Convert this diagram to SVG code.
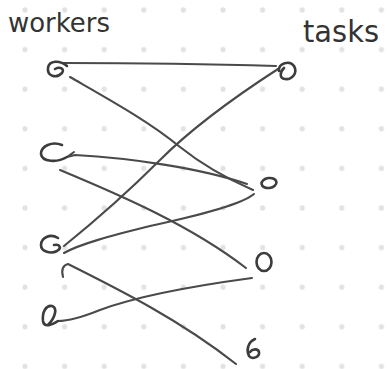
<svg xmlns="http://www.w3.org/2000/svg" width="390" height="369" viewBox="0 0 390 369">
  <defs>
    <pattern id="dotgrid" patternUnits="userSpaceOnUse" x="5.2" y="-9.8" width="39.6" height="39.6">
      <circle cx="19.8" cy="19.8" r="2.6" fill="#e2e2e2"/>
    </pattern>
  </defs>
  <style>
    .ink { fill: none; stroke: #3c3c3c; stroke-width: 2.6; stroke-linecap: round; stroke-linejoin: round; }
    .edge { fill: none; stroke: #4a4a4a; stroke-width: 2.1; stroke-linecap: round; stroke-linejoin: round; }
    .label { font-family: "DejaVu Sans", "Liberation Sans", sans-serif; fill: #333; }
  </style>

  <!-- paper with dot grid -->
  <rect width="390" height="369" fill="#ffffff"/>
  <rect width="390" height="369" fill="url(#dotgrid)"/>

  <!-- column headings -->
  <text class="label" x="8" y="32" font-size="27" textLength="102" lengthAdjust="spacingAndGlyphs">workers</text>
  <text class="label" x="303" y="42" font-size="30" textLength="76" lengthAdjust="spacingAndGlyphs">tasks</text>

  <!-- assignments -->
  <g id="connectors">
    <path class="edge" d="M 63 63 C 130 63, 210 64, 276 66"/>
    <path class="edge" d="M 70 77 C 110 100, 150 122, 180 147 C 205 167, 230 180, 253 190"/>
    <path class="edge" d="M 278 69 C 230 100, 190 130, 160 160 C 125 195, 90 225, 64 246"/>
    <path class="edge" d="M 74 152 L 67 157 L 75 155 C 130 158, 200 168, 247 184"/>
    <path class="edge" d="M 60 170 C 120 195, 190 225, 246 268"/>
    <path class="edge" d="M 254 194 C 242 204, 205 214, 150 226 C 110 236, 80 244, 64 253"/>
    <path class="edge" d="M 252 278 C 200 285, 140 295, 100 310 C 80 318, 68 321, 58 321"/>
    <path class="edge" d="M 63 277 C 61 270, 63 265, 68 264 C 120 290, 180 320, 236 364"/>
  </g>

  <!-- workers -->
  <g id="worker-1">
    <path class="ink" d="M 67 66 C 60 60, 49 60, 48 68 C 47 76, 56 79, 62 73 C 65 69, 60 66, 55 69"/>
  </g>
  <g id="worker-2">
    <path class="ink" d="M 62 145 C 52 141, 41 146, 41 154 C 42 162, 57 163, 67 157"/>
  </g>
  <g id="worker-3">
    <path class="ink" d="M 58 238 C 50 233, 41 238, 41 245 C 41 252, 51 254, 57 251 C 62 248, 60 244, 54 245"/>
  </g>
  <g id="worker-4">
    <path class="ink" d="M 58 321 C 52 325, 44 328, 43 321 C 42 312, 46 305, 52 306 C 58 308, 55 318, 48 325"/>
  </g>

  <!-- tasks -->
  <g id="task-1">
    <path class="ink" d="M 279 71 C 278 63, 290 60, 294 66 C 298 73, 292 80, 285 79 C 279 78, 280 72, 284 68"/>
  </g>
  <g id="task-2">
    <ellipse class="ink" cx="269" cy="183" rx="7.5" ry="5" transform="rotate(-8 269 183)"/>
  </g>
  <g id="task-3">
    <ellipse class="ink" cx="264" cy="262" rx="7.5" ry="9"/>
  </g>
  <g id="task-4">
    <path class="ink" d="M 255 339 C 248 342, 246 350, 249 356 C 252 360, 260 357, 259 352 C 258 348, 252 349, 250 352"/>
  </g>
</svg>
